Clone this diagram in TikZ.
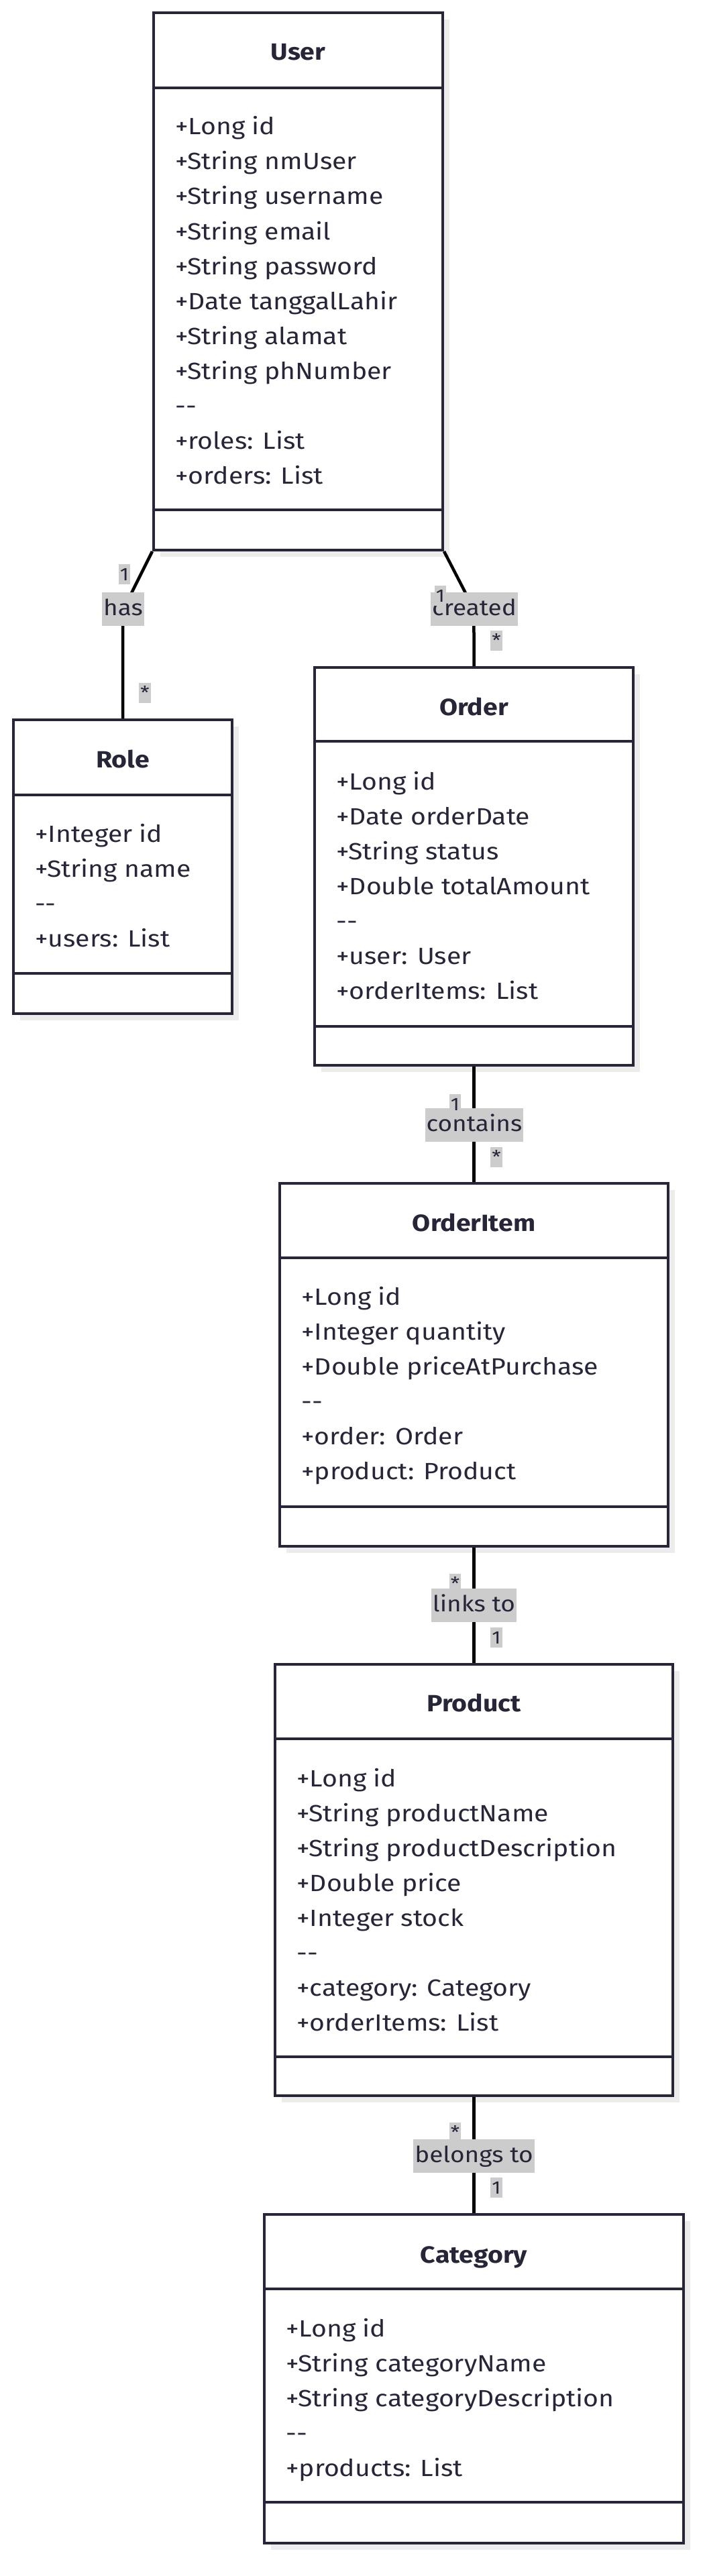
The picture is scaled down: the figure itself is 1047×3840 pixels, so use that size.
\documentclass[tikz,border=0pt]{standalone}
\usepackage{fontspec}
\setmainfont{Fira Sans}[FakeStretch=1.12]
\usetikzlibrary{shadows}
\definecolor{ink}{HTML}{262638}
\definecolor{shadowgray}{HTML}{ECECEC}
\definecolor{lblbg}{HTML}{CCCCCC}
\newcommand\dd{-\kern0pt-}
\tikzset{
 cls/.style={draw=ink, line width=4pt, fill=white, inner sep=0pt,
   drop shadow={shadow xshift=10pt, shadow yshift=-10pt, fill=shadowgray, opacity=1}},
 attr/.style={anchor=base west, inner sep=0pt, text=ink, font=\fontsize{35}{40}\selectfont},
 ttl/.style={anchor=base, inner sep=0pt, text=ink, font=\fontsize{35}{40}\selectfont\bfseries},
 sepline/.style={draw=ink, line width=4pt},
 conn/.style={draw=black, line width=4.5pt},
 elab/.style={fill=lblbg, text=ink, inner xsep=2pt, inner ysep=0pt, minimum height=50pt,
   text height=25pt, text depth=7pt, font=\fontsize{33}{40}\selectfont},
 mult/.style={fill=lblbg, text=ink, inner xsep=2pt, inner ysep=0pt, minimum height=30pt,
   text height=19pt, text depth=0pt, font=\fontsize{27}{30}\selectfont},
}
\begin{document}
\begin{tikzpicture}[x=1pt,y=-1pt]
\fill[white] (0,0) rectangle (1047,3840);
\useasboundingbox (0,0) rectangle (1047,3840);

% ---------- class boxes ----------
\node[cls, minimum width=431pt, minimum height=801pt] (user) at (444.5,419.5) {};
\node[cls, minimum width=326pt, minimum height=438pt] (role) at (183,1292) {};
\node[cls, minimum width=475pt, minimum height=593pt] (order) at (706.5,1291.5) {};
\node[cls, minimum width=579pt, minimum height=541pt] (orderitem) at (706.5,2034.5) {};
\node[cls, minimum width=593pt, minimum height=643pt] (product) at (706.5,2802.5) {};
\node[cls, minimum width=625pt, minimum height=490pt] (category) at (706.5,3546) {};

% separators
\draw[sepline] (user.west |- 0,131) -- (user.east |- 0,131);
\draw[sepline] (user.west |- 0,760) -- (user.east |- 0,760);
\draw[sepline] (role.west |- 0,1185) -- (role.east |- 0,1185);
\draw[sepline] (role.west |- 0,1451) -- (role.east |- 0,1451);
\draw[sepline] (order.west |- 0,1105) -- (order.east |- 0,1105);
\draw[sepline] (order.west |- 0,1530) -- (order.east |- 0,1530);
\draw[sepline] (orderitem.west |- 0,1875) -- (orderitem.east |- 0,1875);
\draw[sepline] (orderitem.west |- 0,2246) -- (orderitem.east |- 0,2246);
\draw[sepline] (product.west |- 0,2592) -- (product.east |- 0,2592);
\draw[sepline] (product.west |- 0,3066) -- (product.east |- 0,3066);
\draw[sepline] (category.west |- 0,3412) -- (category.east |- 0,3412);
\draw[sepline] (category.west |- 0,3730) -- (category.east |- 0,3730);

% titles
\node[ttl] (userT) at (444.5,90) {User};
\node[ttl] (roleT) at (183,1144) {Role};
\node[ttl] (orderT) at (706.5,1066) {Order};
\node[ttl] (orderitemT) at (706.5,1835) {OrderItem};
\node[ttl] (productT) at (706.5,2551) {Product};
\node[ttl] (categoryT) at (706.5,3373) {Category};

% attributes
\foreach \t [count=\i] in {+Long id,+String nmUser,+String username,+String email,+String password,+Date tanggalLahir,+String alamat,+String phNumber,\dd,+roles: List,+orders: List}
  \node[attr] (u\i) at (261,{201+52*(\i-1)}) {\t};
\foreach \t [count=\i] in {+Integer id,+String name,\dd,+users: List}
  \node[attr] (r\i) at (52,{1255+52*(\i-1)}) {\t};
\foreach \t [count=\i] in {+Long id,+Date orderDate,+String status,+Double totalAmount,\dd,+user: User,+orderItems: List}
  \node[attr] (o\i) at (501,{1177+52*(\i-1)}) {\t};
\foreach \t [count=\i] in {+Long id,+Integer quantity,+Double priceAtPurchase,\dd,+order: Order,+product: Product}
  \node[attr] (oi\i) at (449,{1945+52*(\i-1)}) {\t};
\foreach \t [count=\i] in {+Long id,+String productName,+String productDescription,+Double price,+Integer stock,\dd,+category: Category,+orderItems: List}
  \node[attr] (p\i) at (442,{2663+52*(\i-1)}) {\t};
\foreach \t [count=\i] in {+Long id,+String categoryName,+String categoryDescription,\dd,+products: List}
  \node[attr] (c\i) at (426,{3483+52*(\i-1)}) {\t};

% ---------- connectors ----------
\draw[conn] (user.south west) -- (199,878) .. controls (185,906) and (183,920) .. (183,945) -- (role.north);
\draw[conn] (user.south east) -- (692,880) .. controls (705,906) and (706.5,920) .. (706.5,945) -- (order.north);
\draw[conn] (order.south) -- (orderitem.north);
\draw[conn] (orderitem.south) -- (product.north);
\draw[conn] (product.south) -- (category.north);

% ---------- labels ----------
\node[elab] (hasL) at (183.5,908) {has};
\node[mult] (has1) at (185.5,856) {1};
\node[mult] (hasM) at (216,1033) {*};

\node[elab] (crL) at (707,908) {created};
\node[mult] (cr1) at (656.5,888) {1};
\node[mult] (crM) at (740,955) {*};

\node[elab] (coL) at (707,1677) {contains};
\node[mult] (co1) at (678.5,1646) {1};
\node[mult] (coM) at (740,1724.5) {*};

\node[elab] (liL) at (706.5,2393) {links to};
\node[mult] (liM) at (678.5,2361) {*};
\node[mult] (li1) at (740,2441) {1};

\node[elab] (beL) at (706.5,3214) {belongs to};
\node[mult] (beM) at (678.5,3179) {*};
\node[mult] (be1) at (740,3261) {1};
\end{tikzpicture}
\end{document}
